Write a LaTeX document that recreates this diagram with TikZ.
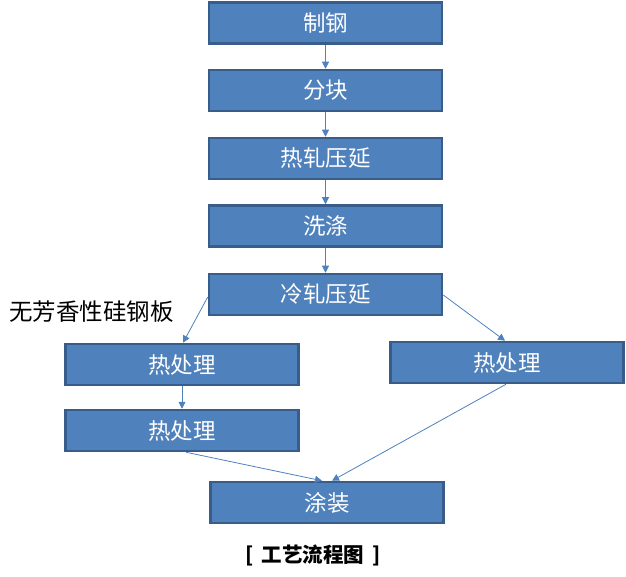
\documentclass[tikz,border=0pt]{standalone}
\usepackage{fontspec}
\newfontfamily\cjk{Noto Sans CJK SC}
\usetikzlibrary{arrows.meta}
\definecolor{boxfill}{HTML}{4F81BD}
\definecolor{boxline}{HTML}{385D8A}
\begin{document}
\begin{tikzpicture}[x=1pt,y=-1pt,
  stepbox/.style={draw=boxline,line width=2.5pt,fill=boxfill,minimum width=233pt,minimum height=41pt,inner sep=0pt,text=white,font=\cjk\fontsize{22.5}{22.5}\selectfont},
  conn/.style={draw=boxfill,line width=0.8pt,-{Triangle[length=7pt,width=7pt]}}]
\useasboundingbox (0,0) rectangle (626,577);
\node[stepbox] (a) at (325.5,23) {制钢};
\node[stepbox] (b) at (325.5,90.5) {分块};
\node[stepbox] (c) at (325.5,158.5) {热轧压延};
\node[stepbox] (d) at (325.5,226) {洗涤};
\node[stepbox] (e) at (325.5,294.5) {冷轧压延};
\node[stepbox] (f) at (182,364.5) {热处理};
\node[stepbox] (g) at (507,362.5) {热处理};
\node[stepbox] (h) at (182,430.5) {热处理};
\node[stepbox] (i) at (327,502.5) {涂装};
\node[font=\cjk\fontsize{23.5}{23.5}\selectfont,anchor=west,inner sep=0pt] (lbl) at (9,312) {无芳香性硅钢板};
\node[font=\cjk\bfseries\fontsize{20.5}{20.5}\selectfont,inner sep=0pt] (cap) at (313,555) {[\hspace{8pt}工艺流程图\hspace{8pt}]};
\draw[conn] (a) -- (b);
\draw[conn] (b) -- (c);
\draw[conn] (c) -- (d);
\draw[conn] (d) -- (e);
\draw[conn] (e.west |- 0,297) -- (f.north -| 183,0);
\draw[conn] (e.east |- 0,295) -- (g.north -| 505,0);
\draw[conn] (f) -- (h);
\draw[conn] (h.south -| 186,0) -- (i.north -| 322,0);
\draw[conn] (g.south -| 506,0) -- (i.north -| 332,0);
\end{tikzpicture}
\end{document}
